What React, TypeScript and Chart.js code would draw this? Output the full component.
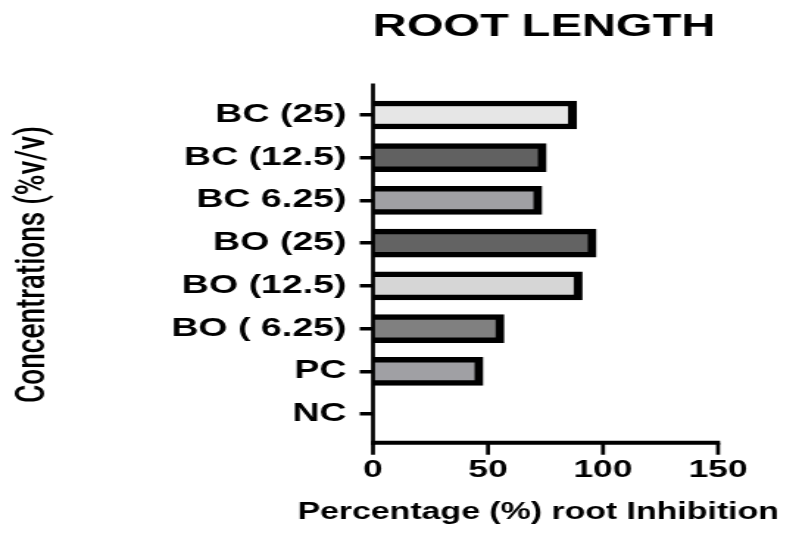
import React, { useEffect, useRef } from "react";
import { Chart, registerables } from "chart.js";

Chart.register(...registerables);

const TITLE = "ROOT LENGTH";
const X_TITLE = "Percentage (%) root Inhibition";
const Y_TITLE = "Concentrations (%v/v)";

const categories = [
  "BC (25)",
  "BC (12.5)",
  "BC 6.25)",
  "BO (25)",
  "BO (12.5)",
  "BO ( 6.25)",
  "PC",
  "NC",
];
const inhibition = [88.4, 75.3, 73.4, 97.0, 90.9, 56.9, 47.8, 0];
const fillColors = [
  "#e6e6e6",
  "#616161",
  "#a0a0a4",
  "#636363",
  "#d6d6d6",
  "#808080",
  "#a0a0a4",
  "#cccccc",
];
const X_MIN = 0;
const X_MAX = 150;
const X_STEP = 50;

// The reference image is horizontally stretched; draw on a narrower canvas and stretch it.
const W = 543;
const H = 534;
const S = 799 / W;
const FONT = '"Liberation Sans", Arial, Helvetica, sans-serif';

const axesPlugin = {
  id: "customAxes",
  afterDatasetsDraw(chart: any) {
    const { ctx, chartArea, scales } = chart;
    const xs = scales.x;
    const axisY = chartArea.bottom + 7.3;
    ctx.save();
    ctx.strokeStyle = "#000";
    ctx.lineCap = "butt";
    // y axis line
    ctx.lineWidth = 4 / S;
    ctx.beginPath();
    ctx.moveTo(chartArea.left, chartArea.top - 10);
    ctx.lineTo(chartArea.left, axisY + 2);
    ctx.stroke();
    // x axis line
    ctx.lineWidth = 4;
    ctx.beginPath();
    ctx.moveTo(chartArea.left - 2 / S, axisY);
    ctx.lineTo(xs.getPixelForValue(X_MAX) + 2 / S, axisY);
    ctx.stroke();
    // x tick marks
    ctx.lineWidth = 4 / S;
    ctx.beginPath();
    for (const t of xs.ticks) {
      const px = xs.getPixelForValue(t.value);
      ctx.moveTo(px, axisY);
      ctx.lineTo(px, axisY + 12);
    }
    ctx.stroke();
    // chart title
    ctx.fillStyle = "#000";
    ctx.font = `bold 32px ${FONT}`;
    ctx.textAlign = "center";
    ctx.textBaseline = "middle";
    ctx.fillText(TITLE, (chartArea.left + chartArea.right) / 2 - 1, 27);
    // x axis title
    ctx.font = `bold 23px ${FONT}`;
    ctx.fillText(X_TITLE, (chartArea.left + chartArea.right) / 2 - 5, 513);
    ctx.restore();
  },
};

export default function App() {
  const ref = useRef<HTMLCanvasElement | null>(null);

  useEffect(() => {
    if (!ref.current) return;
    const chart = new Chart(ref.current, {
      type: "bar",
      data: {
        labels: categories,
        datasets: [
          {
            data: inhibition,
            backgroundColor: fillColors,
            borderColor: "#000",
            borderWidth: { top: 5.5, bottom: 5.5, right: 6, left: 0 },
            borderSkipped: "start",
            barThickness: 28,
          },
        ],
      },
      options: {
        indexAxis: "y",
        animation: false,
        responsive: false,
        devicePixelRatio: 1,
        layout: { padding: { top: 93.6, left: 0, right: W - 718 / S, bottom: 0 } },
        plugins: {
          legend: { display: false },
          tooltip: { enabled: false },
          title: { display: false },
        },
        scales: {
          x: {
            type: "linear",
            min: X_MIN,
            max: X_MAX,
            ticks: {
              stepSize: X_STEP,
              color: "#000",
              padding: 21,
              font: { family: FONT, size: 24, weight: "bold" },
            },
            grid: { display: false, drawTicks: false },
            border: { display: false },
            title: { display: false },
            afterFit(scale: any) {
              scale.height = 98.6;
            },
          },
          y: {
            type: "category",
            ticks: {
              color: "#000",
              padding: 9,
              font: { family: FONT, size: 25.5, weight: "bold" },
            },
            grid: {
              display: true,
              drawOnChartArea: false,
              drawTicks: true,
              tickLength: 9,
              offset: false,
              color: "#000",
              lineWidth: 3.5,
            },
            border: { display: false },
            title: {
              display: true,
              text: Y_TITLE,
              color: "#000",
              font: { family: "Roboto, " + FONT, size: 28, weight: "500" },
              padding: { top: 6, bottom: 0 },
            },
            afterFit(scale: any) {
              scale.width = 373 / S;
            },
          },
        },
      },
      plugins: [axesPlugin],
    });
    return () => chart.destroy();
  }, []);

  return (
    <div
      style={{
        position: "fixed",
        left: 0,
        top: 0,
        width: 799,
        height: H,
        overflow: "hidden",
        background: "#fff",
      }}
    >
      <canvas
        ref={ref}
        width={W}
        height={H}
        style={{
          display: "block",
          width: W,
          height: H,
          transform: `scaleX(${S})`,
          transformOrigin: "0 0",
        }}
      />
    </div>
  );
}
